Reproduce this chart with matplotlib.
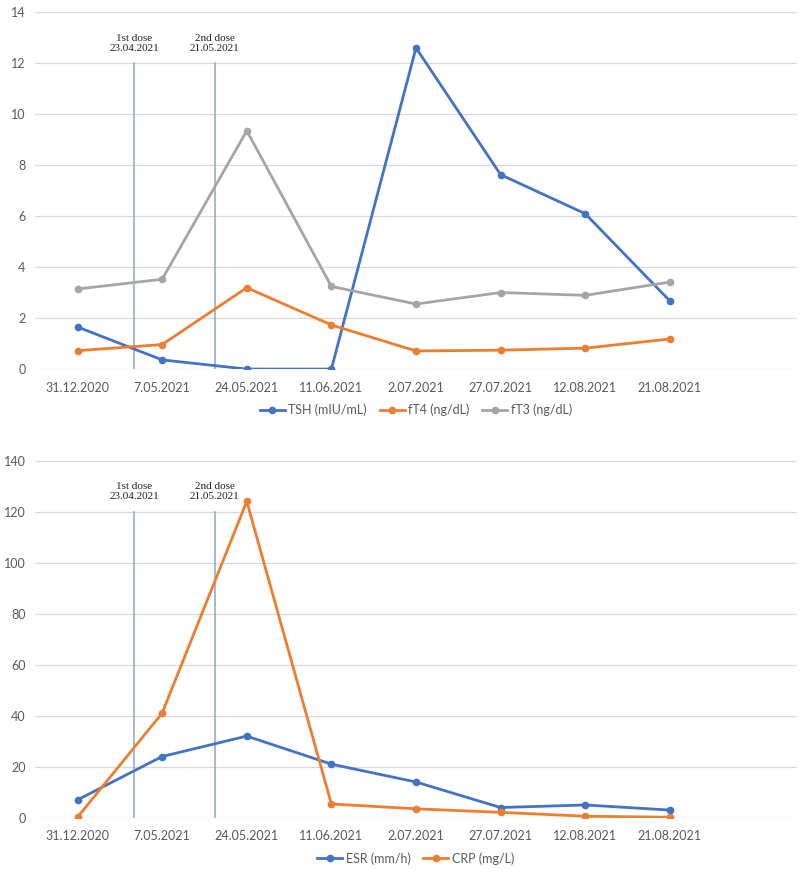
import matplotlib
matplotlib.use("Agg")
import matplotlib.pyplot as plt

dates = ["31.12.2020", "7.05.2021", "24.05.2021", "11.06.2021",
         "2.07.2021", "27.07.2021", "12.08.2021", "21.08.2021"]

tsh = [1.66, 0.37, 0.01, 0.01, 12.6, 7.63, 6.1, 2.68]
ft4 = [0.73, 0.97, 3.2, 1.74, 0.72, 0.75, 0.83, 1.19]
ft3 = [3.15, 3.53, 9.35, 3.25, 2.56, 3.01, 2.9, 3.42]

esr = [7, 24, 32, 21, 14, 4, 5, 3]
crp = [0.2, 41, 124, 5.4, 3.5, 2.1, 0.6, 0.2]

dose_labels = ["1st dose\n23.04.2021", "2nd dose\n21.05.2021"]
dose_pos = [0.67, 1.62]  # position between categories

plt.rcParams['font.family'] = ['Lato', 'DejaVu Sans']

BLUE = "#4472C4"
ORANGE = "#ED7D31"
GRAY = "#A5A5A5"
VCOL = "#8EA3CC"
TXT = "#595959"

fig = plt.figure(figsize=(8, 8.69), dpi=100)
ax1 = fig.add_axes([0.044, 0.575, 0.952, 0.411])
ax2 = fig.add_axes([0.044, 0.059, 0.952, 0.411])

x = list(range(len(dates)))


def style(ax, ymax, step, dose_top, label_y):
    ax.set_xlim(-0.5, 8.5)
    ax.set_ylim(0, ymax)
    ax.set_yticks(range(0, ymax + 1, step))
    ax.set_xticks(x)
    ax.set_xticklabels(dates)
    for s in ax.spines.values():
        s.set_visible(False)
    ax.grid(axis='y', color='#D9D9D9', linewidth=0.9)
    ax.set_axisbelow(True)
    ax.tick_params(length=0, labelsize=9, colors=TXT)
    ax.tick_params(axis='x', pad=9)
    ax.tick_params(axis='y', pad=7)
    for p, lab in zip(dose_pos, dose_labels):
        ax.plot([p, p], [0, dose_top], color=VCOL, lw=1.1, zorder=1)
        ax.text(p, label_y, lab, ha='center', va='bottom', fontsize=8,
                family=['Liberation Serif', 'DejaVu Serif'], color='#222222',
                linespacing=1.15)


style(ax1, 14, 2, 12, 12.4)
style(ax2, 140, 20, 120, 124.0)

kw = dict(lw=2.0, marker='o', markersize=4.5, zorder=3)
ax1.plot(x, tsh, color=BLUE, label="TSH (mIU/mL)", **kw)
ax1.plot(x, ft4, color=ORANGE, label="fT4 (ng/dL)", **kw)
ax1.plot(x, ft3, color=GRAY, label="fT3 (ng/dL)", **kw)

ax2.plot(x, esr, color=BLUE, label="ESR (mm/h)", **kw)
ax2.plot(x, crp, color=ORANGE, label="CRP (mg/L)", **kw)

for ax, ncol in [(ax1, 3), (ax2, 2)]:
    leg = ax.legend(loc='upper center', bbox_to_anchor=(0.5, -0.065), ncol=ncol,
                    frameon=False, fontsize=9, handlelength=2.0,
                    columnspacing=1.0, handletextpad=0.3)
    for t in leg.get_texts():
        t.set_color(TXT)

fig.savefig("out.png", dpi=100, facecolor='white')
